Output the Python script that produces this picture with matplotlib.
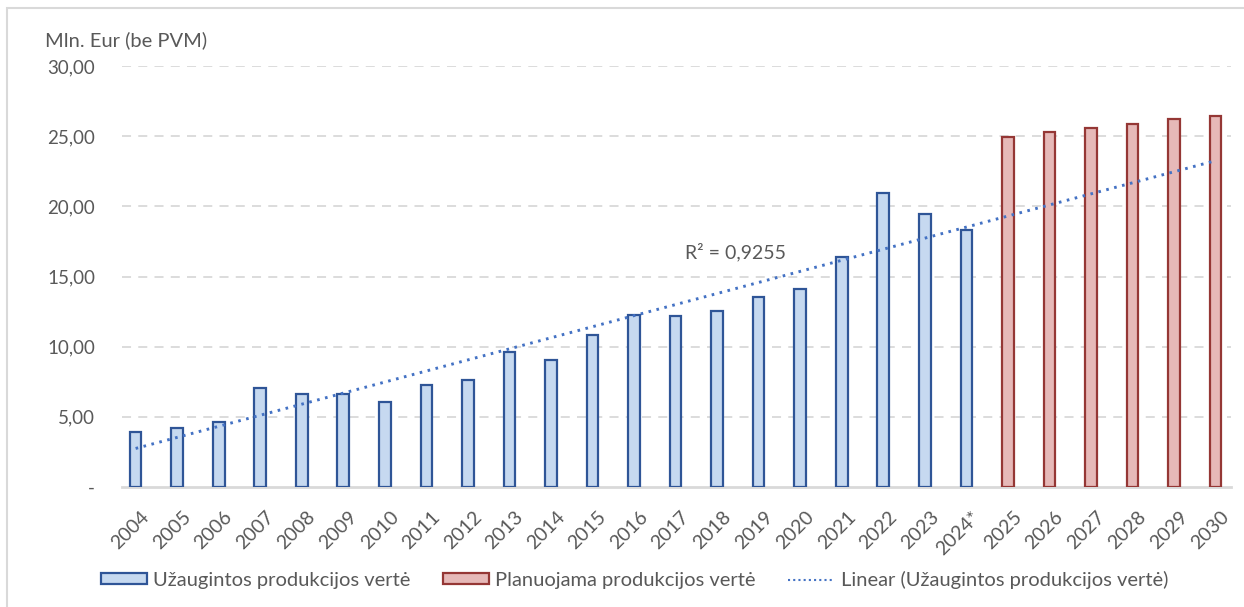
import numpy as np
import matplotlib
matplotlib.use("Agg")
import matplotlib.pyplot as plt
import matplotlib.transforms as mtrans
from matplotlib.patches import Rectangle, Patch
from matplotlib.lines import Line2D

# data
years_actual = ['2004', '2005', '2006', '2007', '2008', '2009', '2010', '2011', '2012',
                '2013', '2014', '2015', '2016', '2017', '2018', '2019', '2020', '2021',
                '2022', '2023', '2024*']
values_actual = [3.95, 4.20, 4.65, 7.03, 6.65, 6.65, 6.08, 7.27, 7.63,
                 9.60, 9.02, 10.83, 12.26, 12.16, 12.52, 13.52, 14.13, 16.42,
                 20.95, 19.48, 18.30]
years_plan = ['2025', '2026', '2027', '2028', '2029', '2030']
values_plan = [24.97, 25.28, 25.59, 25.90, 26.20, 26.46]
r2_label = 'R² = 0,9255'

labels = years_actual + years_plan
TXT = '#595959'
GRID = '#d9d9d9'
BLUE_F, BLUE_E = '#c6d9f0', '#2f5597'
RED_F, RED_E = '#e6b9b8', '#953735'
TREND = '#4472c4'

plt.rcParams['font.family'] = ['Lato', 'DejaVu Sans']

fig = plt.figure(figsize=(12.44, 6.07), dpi=100)
ax = fig.add_axes([121.5 / 1244, 120 / 607, 1109 / 1244, 421 / 607])

x_act = np.arange(len(years_actual))
x_plan = np.arange(len(years_actual), len(labels))
w = 0.28

ax.bar(x_act, values_actual, width=w, color=BLUE_F, edgecolor=BLUE_E,
       linewidth=1.6, zorder=3)
ax.bar(x_plan, values_plan, width=w, color=RED_F, edgecolor=RED_E,
       linewidth=1.6, zorder=3)

# linear trend on observed values, projected forward to 2030
coef = np.polyfit(x_act, values_actual, 1)
x_tr = np.arange(len(labels))
ax.plot(x_tr, np.polyval(coef, x_tr), color=TREND, linewidth=2.1,
        linestyle=(0, (0.9, 1.9)), zorder=4)

ax.text(14.45, 16.75, r2_label, fontsize=14, color=TXT, ha='center', va='center')

ax.set_ylim(0, 30)
ax.set_xlim(-0.34, 26.36)
yt = [0, 5, 10, 15, 20, 25, 30]
ax.set_yticks(yt)
ax.set_yticklabels(['-'] + ['%d,00' % v for v in yt[1:]])
ax.set_xticks(x_tr)
ax.set_xticklabels(labels, rotation=45, ha='right', rotation_mode='anchor')
ax.tick_params(axis='y', length=0, pad=19, labelsize=13.5, labelcolor=TXT)
ax.tick_params(axis='x', length=0, pad=8, labelsize=14, labelcolor=TXT)
shift = mtrans.ScaledTranslation(5 / 100, -10 / 100, fig.dpi_scale_trans)
for lab in ax.get_xticklabels():
    lab.set_transform(lab.get_transform() + shift)

for v in yt[1:]:
    ax.axhline(v, color=GRID, linewidth=1.3, linestyle=(0, (5, 4)), zorder=1)
for s in ['top', 'right', 'left']:
    ax.spines[s].set_visible(False)
ax.spines['bottom'].set_color(GRID)
ax.spines['bottom'].set_linewidth(2)

fig.text(45 / 1244, 1 - 40 / 607, 'Mln. Eur (be PVM)', fontsize=14.5, color=TXT,
         ha='left', va='center')

handles = [Patch(facecolor=BLUE_F, edgecolor=BLUE_E, linewidth=1.6),
           Patch(facecolor=RED_F, edgecolor=RED_E, linewidth=1.6),
           Line2D([], [], color=TREND, linewidth=1.5, linestyle=(0, (1, 1.5)))]
names = ['Užaugintos produkcijos vertė', 'Planuojama produkcijos vertė',
         'Linear (Užaugintos produkcijos vertė)']
leg = fig.legend(handles, names, loc='center', bbox_to_anchor=(634.5 / 1244, 1 - 580 / 607),
                 ncol=3, frameon=False, fontsize=14.5, handlelength=2.3, handleheight=0.45,
                 handletextpad=0.3, columnspacing=1.6)
for t in leg.get_texts():
    t.set_color(TXT)

fig.patches.append(Rectangle((7 / 1244, -0.1), 1.2, 1.1 - 8 / 607,
                             transform=fig.transFigure, fill=False,
                             edgecolor=GRID, linewidth=1.5))

fig.savefig('out.png', dpi=100)
